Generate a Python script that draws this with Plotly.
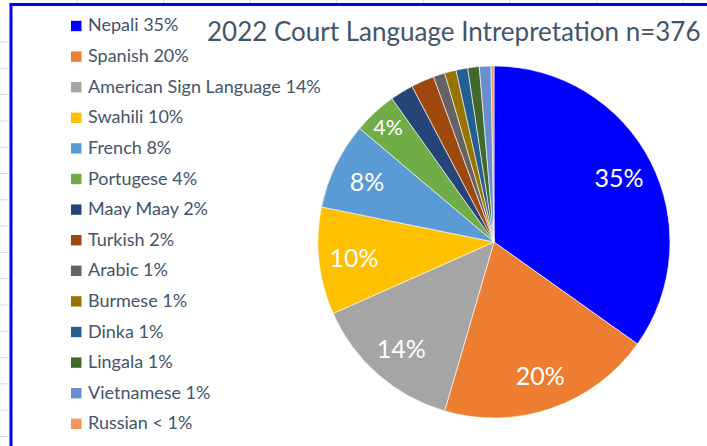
import plotly.graph_objects as go

languages = ["Nepali", "Spanish", "American Sign Language", "Swahili", "French",
             "Portugese", "Maay Maay", "Turkish", "Arabic", "Burmese", "Dinka",
             "Lingala", "Vietnamese", "Russian"]
counts = [131, 74, 52, 37, 30, 15, 8, 8, 4, 4, 4, 4, 4, 1]
legend_pct = ["35%", "20%", "14%", "10%", "8%", "4%", "2%", "2%", "1%", "1%",
              "1%", "1%", "1%", "< 1%"]
slice_text = ["35%", "20%", "14%", "10%", "8%", "4%", "", "", "", "", "", "", "", ""]
colors = ["#0000FF", "#ED7D31", "#A5A5A5", "#FFC000", "#5B9BD5", "#70AD47",
          "#264478", "#9E480E", "#636363", "#997300", "#255E91", "#43682B",
          "#698ED0", "#F1975A"]
title_text = "2022 Court Language Intrepretation n=376"

W, H = 707, 446
TXT = "#44546A"
FONT = "Lato"
dom = dict(x=[318 / W, 670 / W], y=[(H - 418) / H, (H - 66) / H])

fig = go.Figure()
# the slices
fig.add_trace(go.Pie(
    labels=languages, values=counts, textinfo="none",
    sort=False, direction="clockwise", rotation=0,
    marker=dict(colors=colors, line=dict(color="white", width=0.6)),
    domain=dom, showlegend=False, hoverinfo="label+percent",
))
# transparent ring carrying the percentage labels at ~0.8 of the radius
fig.add_trace(go.Pie(
    labels=languages, values=counts, text=slice_text, textinfo="text",
    sort=False, direction="clockwise", rotation=0, hole=0.6,
    marker=dict(colors=["rgba(0,0,0,0)"] * len(counts), line=dict(width=0)),
    textposition="inside", insidetextorientation="horizontal",
    textfont=dict(color="white", size=25, family=FONT),
    domain=dom, showlegend=False, hoverinfo="skip",
))

shapes = []
annotations = []
# faint spreadsheet grid ticks outside the chart frame
for k in range(8):
    xg = 77 + k * 86.6
    shapes.append(dict(type="line", xref="paper", yref="paper",
                       x0=xg / W, x1=xg / W, y0=1, y1=(H - 3) / H,
                       line=dict(color="#D9D9D9", width=1)))
for k in range(17):
    yg = 42 + k * 26.3
    shapes.append(dict(type="line", xref="paper", yref="paper",
                       x0=0, x1=9 / W, y0=(H - yg) / H, y1=(H - yg) / H,
                       line=dict(color="#D9D9D9", width=1)))
# blue chart frame (left and top edges visible)
shapes.append(dict(type="line", xref="paper", yref="paper",
                   x0=11 / W, x1=11 / W, y0=0, y1=(H - 4.5) / H,
                   line=dict(color="#0000FF", width=3)))
shapes.append(dict(type="line", xref="paper", yref="paper",
                   x0=9.5 / W, x1=1, y0=(H - 4.5) / H, y1=(H - 4.5) / H,
                   line=dict(color="#0000FF", width=3)))

# legend
for i, (lab, pct, col) in enumerate(zip(languages, legend_pct, colors)):
    yc = 26 + i * 30.6
    shapes.append(dict(type="rect", xref="paper", yref="paper",
                       x0=71 / W, x1=81.5 / W,
                       y0=(H - yc - 5.2) / H, y1=(H - yc + 5.2) / H,
                       fillcolor=col, line=dict(width=0)))
    annotations.append(dict(text=f"{lab} {pct}", xref="paper", yref="paper",
                            x=86 / W, y=(H - yc + 1.5) / H, xanchor="left", yanchor="middle",
                            showarrow=False, font=dict(size=18, color=TXT, family=FONT)))

annotations.append(dict(text=title_text, xref="paper", yref="paper",
                        x=454 / W, y=(H - 31) / H, xanchor="center", yanchor="middle",
                        showarrow=False, font=dict(size=26, color=TXT, family=FONT)))

fig.update_layout(
    width=W, height=H, margin=dict(l=0, r=0, t=0, b=0),
    paper_bgcolor="white", plot_bgcolor="white",
    shapes=shapes, annotations=annotations,
)
fig.write_html("out.html", config={"displayModeBar": False},
               post_script="document.body.style.margin='0';")
